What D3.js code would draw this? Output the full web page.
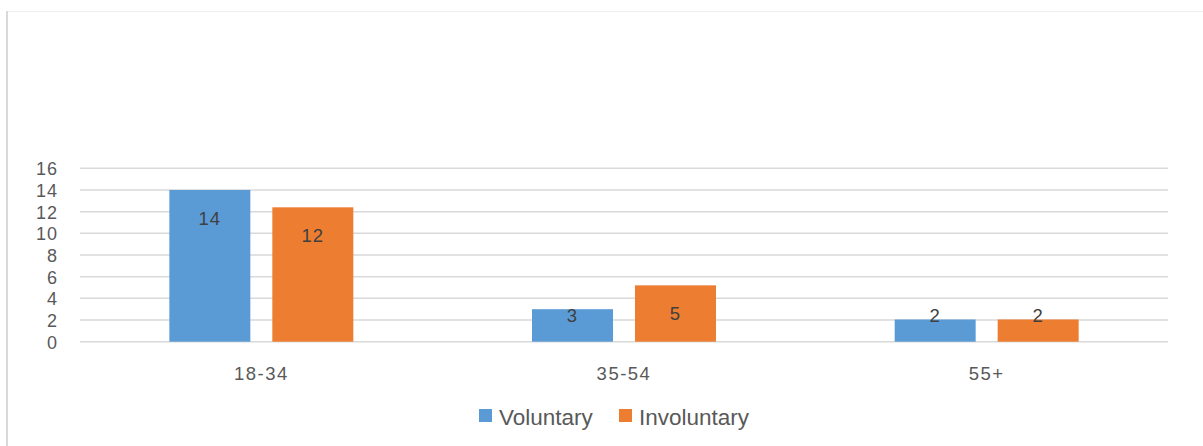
<!DOCTYPE html>
<html><head><meta charset="utf-8">
<script src="https://cdn.jsdelivr.net/npm/d3@7"></script>
<style>
html,body{margin:0;padding:0;background:#fff;}
svg{display:block;}
text{font-family:"Liberation Sans",Arial,sans-serif;}
</style></head>
<body>
<script>
const categories = ["18-34", "35-54", "55+"];
const seriesNames = ["Voluntary", "Involuntary"];
const voluntary = [14, 3, 2.05];
const involuntary = [12.4, 5.2, 2.05];
const dataLabels = [[14, 12], [3, 5], [2, 2]];
const yTicks = [0, 2, 4, 6, 8, 10, 12, 14, 16];
const colors = ["#5B9BD5", "#ED7D31"];

const W = 1203, H = 446;
const svg = d3.select("body").append("svg").attr("width", W).attr("height", H);

// chart frame
svg.append("line").attr("x1", 6).attr("x2", W).attr("y1", 11.5).attr("y2", 11.5)
  .attr("stroke", "#efefef").attr("stroke-width", 1);
svg.append("line").attr("x1", 7).attr("x2", 7).attr("y1", 11).attr("y2", H)
  .attr("stroke", "#d9d9d9").attr("stroke-width", 2);

const plotL = 80, plotR = 1168, plotT = 168.3, plotB = 341.7;
const y = d3.scaleLinear().domain([0, 16]).range([plotB, plotT]);
const x0 = d3.scaleBand().domain(categories).range([plotL, plotR])
  .paddingInner(0.4927).paddingOuter(0.4927 / 2);
const x1 = d3.scaleBand().domain(seriesNames).range([0, x0.bandwidth()]).paddingInner(0.2136);

// gridlines
svg.append("g").selectAll("line").data(yTicks).join("line")
  .attr("x1", plotL).attr("x2", plotR)
  .attr("y1", d => y(d)).attr("y2", d => y(d))
  .attr("stroke", "#d9d9d9").attr("stroke-width", 1.5);

// y axis labels
const yAxis = d3.axisLeft(y).tickValues(yTicks).tickSize(0).tickPadding(0);
const ga = svg.append("g").attr("transform", `translate(58,0)`).call(yAxis);
ga.select(".domain").remove();
ga.selectAll("text").attr("fill", "#595959").style("font-size", "18px")
  .style("letter-spacing", "1px").attr("dy", "0.36em");

// bars
const rows = categories.map((c, i) => ({cat: c, vals: [voluntary[i], involuntary[i]], labels: dataLabels[i]}));
const g = svg.append("g").selectAll("g").data(rows).join("g")
  .attr("transform", d => `translate(${x0(d.cat)},0)`);
g.selectAll("rect").data(d => d.vals.map((v, j) => ({v, s: seriesNames[j], j})))
  .join("rect")
  .attr("x", d => x1(d.s)).attr("width", x1.bandwidth())
  .attr("y", d => y(d.v)).attr("height", d => y(0) - y(d.v))
  .attr("fill", d => colors[d.j]);
g.selectAll("text").data(d => d.vals.map((v, j) => ({v, s: seriesNames[j], j, lab: d.labels[j]})))
  .join("text")
  .attr("x", d => x1(d.s) + x1.bandwidth() / 2)
  .attr("y", d => Math.min(y(d.v) + 28, y(0) - 26))
  .attr("dy", "0.36em")
  .attr("text-anchor", "middle")
  .attr("fill", "#404040").style("font-size", "18.5px").style("letter-spacing", "1px")
  .text(d => d.lab);

// x axis labels
const xAxis = d3.axisBottom(x0).tickSize(0).tickPadding(0);
const gx = svg.append("g").attr("transform", `translate(0,373.5)`).call(xAxis);
gx.select(".domain").remove();
gx.selectAll("text").attr("fill", "#595959").style("font-size", "18.5px")
  .style("letter-spacing", "1.5px").attr("dy", "0.36em");

// legend
const legendX = [479, 619];
const lg = svg.append("g").selectAll("g").data(seriesNames).join("g")
  .attr("transform", (d, i) => `translate(${legendX[i]},409)`);
lg.append("rect").attr("width", 13).attr("height", 13).attr("fill", (d, i) => colors[i]);
lg.append("text").attr("x", 20).attr("y", 16).attr("fill", "#595959")
  .style("font-size", "22.5px").text(d => d);
</script>
</body></html>
